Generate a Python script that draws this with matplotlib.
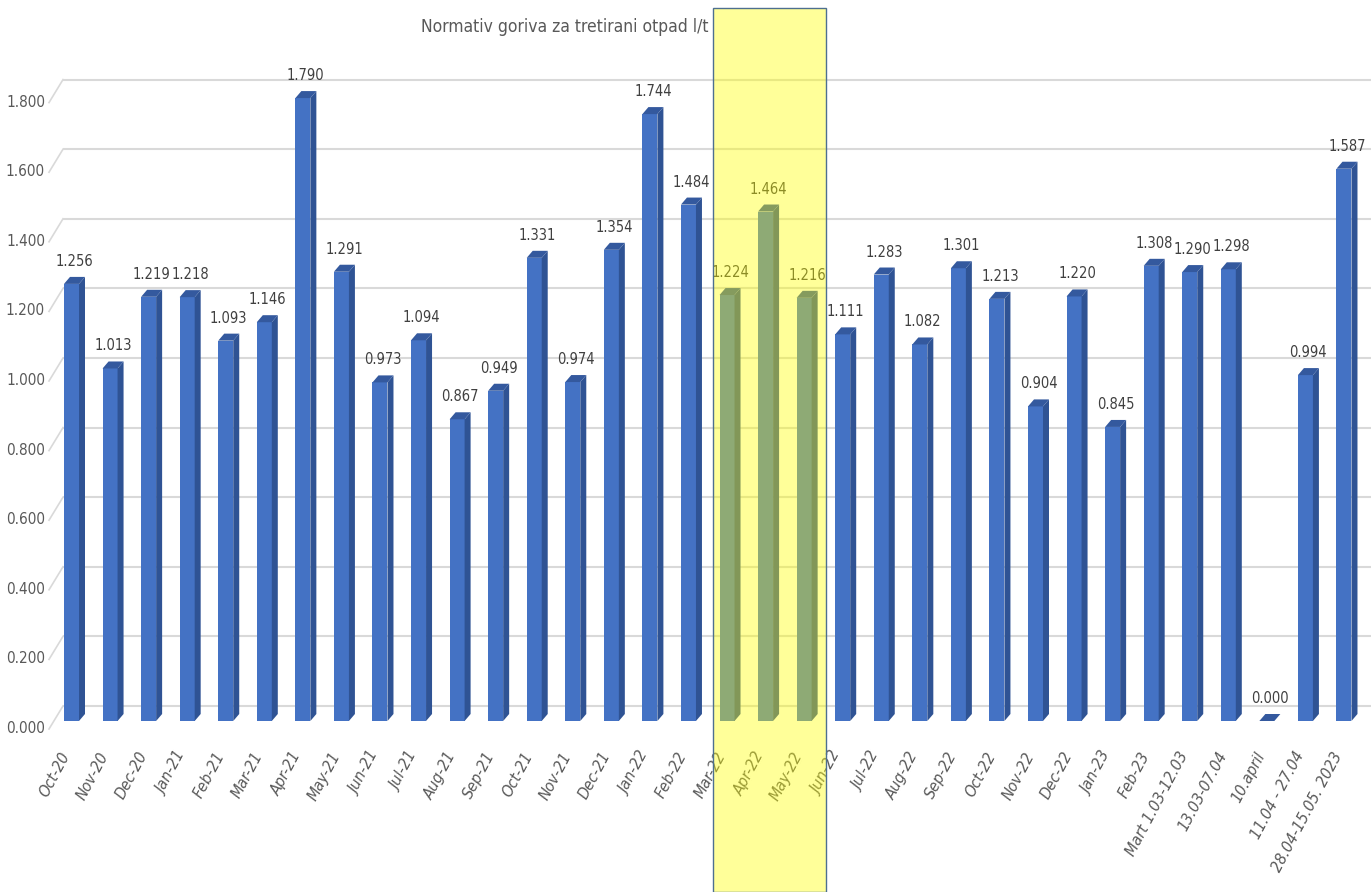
import numpy as np
import matplotlib
matplotlib.use("Agg")
import matplotlib.pyplot as plt
from matplotlib.patches import Rectangle
from matplotlib.transforms import ScaledTranslation, blended_transform_factory

plt.rcParams['font.family'] = ['DejaVu Sans']
plt.rcParams['font.stretch'] = 'condensed'

periods = ["Oct-20", "Nov-20", "Dec-20", "Jan-21", "Feb-21", "Mar-21", "Apr-21", "May-21",
           "Jun-21", "Jul-21", "Aug-21", "Sep-21", "Oct-21", "Nov-21", "Dec-21", "Jan-22",
           "Feb-22", "Mar-22", "Apr-22", "May-22", "Jun-22", "Jul-22", "Aug-22", "Sep-22",
           "Oct-22", "Nov-22", "Dec-22", "Jan-23", "Feb-23", "Mart 1.03-12.03", "13.03-07.04",
           "10.april", "11.04 - 27.04", "28.04-15.05. 2023"]
normativ = [1.256, 1.013, 1.219, 1.218, 1.093, 1.146, 1.790, 1.291,
            0.973, 1.094, 0.867, 0.949, 1.331, 0.974, 1.354, 1.744,
            1.484, 1.224, 1.464, 1.216, 1.111, 1.283, 1.082, 1.301,
            1.213, 0.904, 1.220, 0.845, 1.308, 1.290, 1.298,
            0.000, 0.994, 1.587]
yticks = np.arange(0, 1.81, 0.2)
highlight = ("Mar-22", "May-22")

title = "Normativ goriva za tretirani otpad l/t"

W, H, DPI = 1371, 892, 100
fig = plt.figure(figsize=(W / DPI, H / DPI), dpi=DPI)
fig.patch.set_facecolor("white")

# axes: x in category units, y in l/t
ax_left, ax_bottom = 63, H - 721
ax = fig.add_axes([ax_left / W, ax_bottom / H, (W - ax_left) / W, 721 / H])
pitch = 38.56          # px per category
ypx = 348.0            # px per unit
x0px = 71.5            # centre of first bar
ax.set_xlim((ax_left - x0px) / pitch, (W - x0px) / pitch)
ax.set_ylim(0, 721 / ypx)
for s in ax.spines.values():
    s.set_visible(False)

x = np.arange(len(periods))
vals = np.array(normativ)
bw = 15 / pitch
dx = 6 / pitch
dy = 7 / ypx
back = 15 / ypx
front = -8 / ypx

# back wall gridlines + side wall diagonals
xl, xr = ax.get_xlim()
xside = xl - 14 / pitch
for t in yticks:
    ax.plot([xl, xr], [t + back, t + back], color="#d9d9d9", lw=1.5, zorder=0)
    ax.plot([xside, xl], [t + front, t + back], color="#d9d9d9", lw=1.2,
            zorder=0, clip_on=False)

# 3d-looking bars: front face, right side, top
ax.bar(x, vals, width=bw, color="#4472C4", zorder=3, linewidth=0)
for xi, v in zip(x, vals):
    r = xi + bw / 2
    ax.fill([r, r + dx, r + dx, r], [0, dy, v + dy, v], color="#2F5394",
            zorder=3, linewidth=0)
    ax.fill([r - bw, r, r + dx, r - bw + dx], [v, v, v + dy, v + dy],
            color="#34599E", zorder=3, linewidth=0)
    ax.text(xi + dx / 2, v + dy + 8 / ypx, f"{v:.3f}", ha="center", va="bottom",
            fontsize=10.5, color="#404040", zorder=4)

# y ticks
ax.set_yticks(yticks)
ax.set_yticklabels([f"{t:.3f}" for t in yticks], fontsize=11, color="#595959")
ax.tick_params(axis="y", length=0, pad=13)
for lab in ax.get_yticklabels():
    lab.set_transform(lab.get_transform() + ScaledTranslation(0, -6 / DPI, fig.dpi_scale_trans))

# x ticks
ax.set_xticks(x)
ax.set_xticklabels(periods, rotation=62, ha="right", va="center",
                   rotation_mode="anchor", fontsize=11.5, color="#595959", style="italic")
ax.tick_params(axis="x", length=0, pad=23)
for lab in ax.get_xticklabels():
    lab.set_transform(lab.get_transform() + ScaledTranslation(-5 / DPI, 0, fig.dpi_scale_trans))

fig.text(565 / W, 1 - 27 / H, title, ha="center", va="center", fontsize=12.5, color="#595959")

# yellow highlight band over Mar-22 .. May-22
i0, i1 = periods.index(highlight[0]), periods.index(highlight[1])
band_l = i0 - 0.36
band_r = i1 + 0.57
trans = blended_transform_factory(ax.transData, fig.transFigure)
band = Rectangle((band_l, 0), band_r - band_l, 1 - 8 / H, transform=trans,
                 facecolor=(1, 1, 0, 0.4), edgecolor="#4d6f8f", linewidth=1.0,
                 zorder=10, clip_on=False)
ax.add_patch(band)

fig.savefig("out.png", dpi=DPI)
